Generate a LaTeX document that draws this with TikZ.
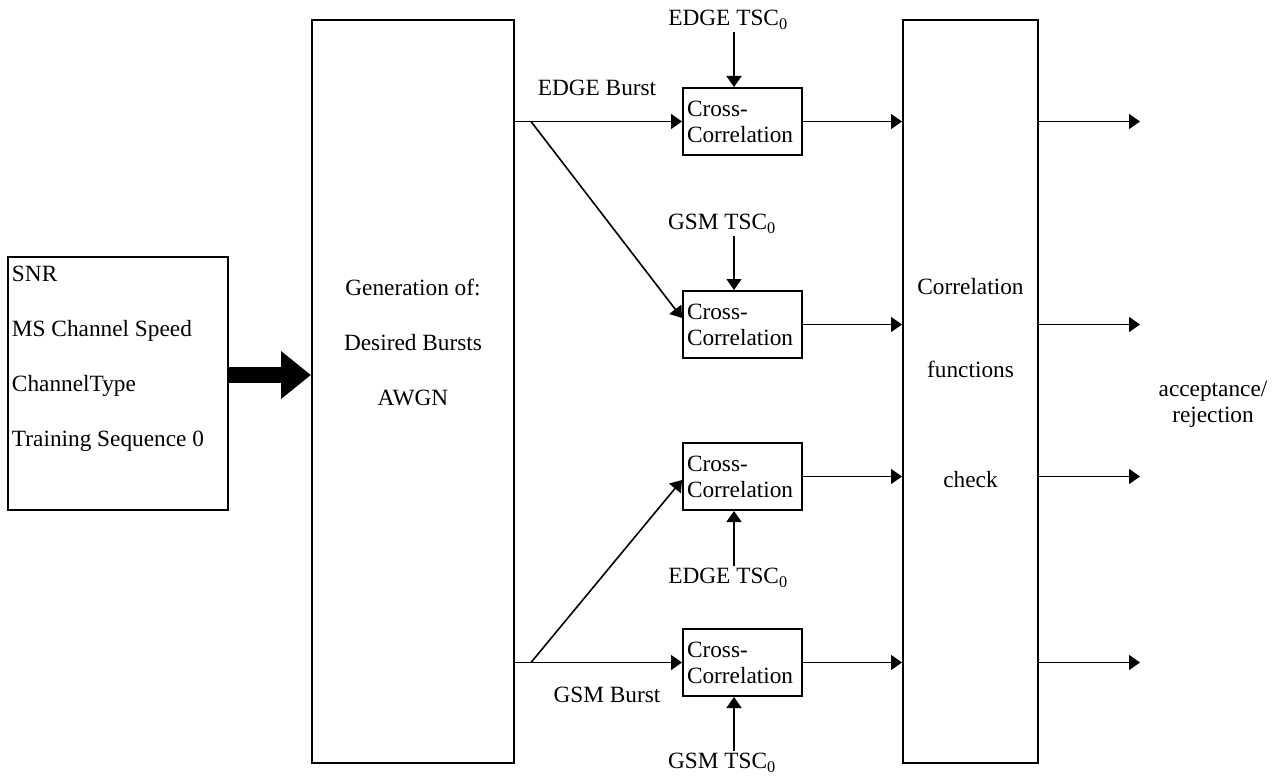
\documentclass[tikz,border=0pt]{standalone}
\usepackage{fontspec}
\setmainfont{Liberation Serif}
\usetikzlibrary{arrows.meta, positioning, calc}

\begin{document}
\begin{tikzpicture}[
  x=1pt, y=-1pt,
  font=\fontsize{23.3}{26}\selectfont,
  box/.style={rectangle, draw, line width=2pt, inner sep=0pt},
  inode/.style={box, minimum width=220pt, minimum height=253pt},
  bnode/.style={box, minimum height=743pt},
  xnode/.style={box, minimum width=119pt, minimum height=67pt, align=flush left,
                text width=111pt, inner sep=4pt},
  btext/.style={inner sep=0pt, font=\fontsize{23.3}{55}\selectfont},
  lnode/.style={inner sep=2pt},
  arrow/.style={-{Triangle[length=11pt, width=15pt]}, line width=1.6pt},
  fatarrow/.style={-{Triangle[length=30pt, width=46pt]}, line width=16pt},
]
\useasboundingbox (0,0) rectangle (1278,776);

% ---- boxes ----
\node[inode] (inbox) at (118,383.5) {};
\node[bnode, minimum width=202pt] (gen) at (413,391.5) {};
\node[bnode, minimum width=135pt] (corr) at (970.5,391.5) {};

\node[xnode] (cc1) at (742.5,121.5) {Cross-\\Correlation};
\node[xnode] (cc2) at (742.5,324.5) {Cross-\\Correlation};
\node[xnode] (cc3) at (742.5,476.5) {Cross-\\Correlation};
\node[xnode] (cc4) at (742.5,662.5) {Cross-\\Correlation};

% ---- texts ----
\node[btext, align=flush left, text width=212pt] (intext) at ([yshift=24.5pt]inbox.center)
  {SNR\\MS Channel Speed\\ChannelType\\Training Sequence 0};
\node[btext, align=center] (gentext) at ([yshift=49.5pt]gen.center)
  {Generation of:\\Desired Bursts\\AWGN};
\node[btext, align=center] (corrtext) at ([yshift=8pt]corr.center)
  {Correlation\\[28pt]functions\\[55pt]check};

\node[lnode] (etsc1) at (728,20) {EDGE TSC\textsubscript{0}};
\node[lnode] (gtsc2) at (722,224) {GSM TSC\textsubscript{0}};
\node[lnode] (etsc3) at (728,578) {EDGE TSC\textsubscript{0}};
\node[lnode] (gtsc4) at (722,763) {GSM TSC\textsubscript{0}};

\node[lnode] (eburst) at (597,88) {EDGE Burst};
\node[lnode] (gburst) at (607,695) {GSM Burst};
\node[lnode, align=center] (accept) at (1213,404) {acceptance/\\rejection};

\coordinate (esplit) at (531,121.5);
\coordinate (gsplit) at (531,662.5);

% ---- connectors ----
\draw[fatarrow] ($(inbox.east)+(0,-8.5)$) -- ($(inbox.east -| gen.west)+(0,-8.5)$);

\draw[arrow] (gen.east |- cc1.west) -- (cc1.west);
\draw[arrow] (esplit) -- ($(cc2.west)+(0,-6.5)$);
\draw[arrow] (gen.east |- cc4.west) -- (cc4.west);
\draw[arrow] (gsplit) -- ($(cc3.west)+(0,3.5)$);

\draw[arrow] ($(cc1.north |- etsc1.south)+(-8.5,0)$) -- ($(cc1.north)+(-8.5,0)$);
\draw[arrow] ($(cc2.north |- gtsc2.south)+(-8.5,0)$) -- ($(cc2.north)+(-8.5,0)$);
\draw[arrow] ($(cc3.south |- etsc3.north)+(-8.5,0)$) -- ($(cc3.south)+(-8.5,0)$);
\draw[arrow] ($(cc4.south |- gtsc4.north)+(-8.5,0)$) -- ($(cc4.south)+(-8.5,0)$);

\foreach \i in {1,...,4} {
  \draw[arrow] (cc\i.east) -- (cc\i.east -| corr.west);
  \path (cc\i.east -| corr.east) ++(101,0) coordinate (out\i);
  \draw[arrow] (cc\i.east -| corr.east) -- (out\i);
}

\end{tikzpicture}
\end{document}
